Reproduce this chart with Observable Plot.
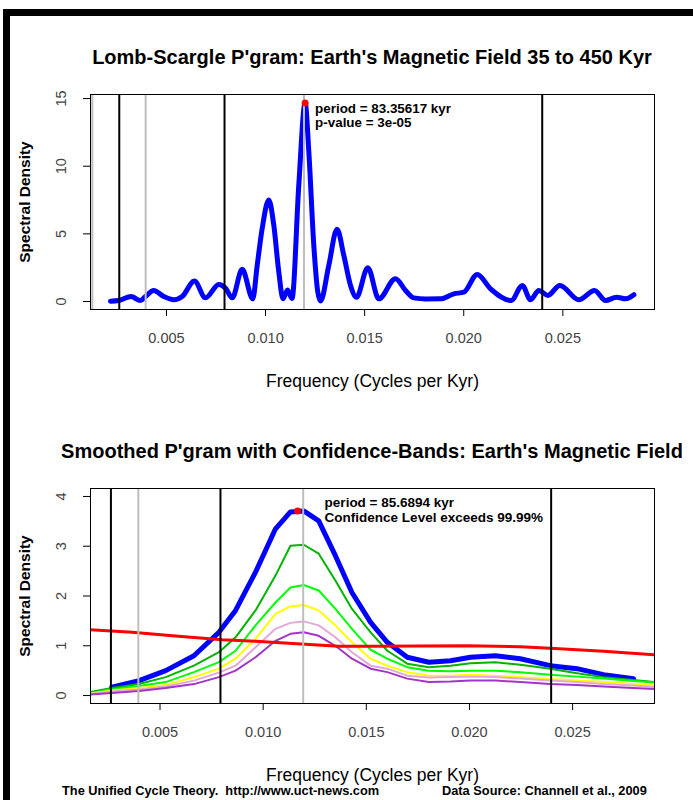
<!DOCTYPE html>
<html>
<head>
<meta charset="utf-8">
<script src="https://cdn.jsdelivr.net/npm/d3@7"></script>
<script src="https://cdn.jsdelivr.net/npm/@observablehq/plot@0.6"></script>
<style>
  body { margin: 0; background: #fff; }
  #page { position: relative; width: 693px; height: 800px; overflow: hidden; background: #fff;
          font-family: "Liberation Sans", Arial, sans-serif; color: #000; }
  .bar { position: absolute; background: #000; }
  .title { position: absolute; left: 0; width: 744px; text-align: center; font-weight: bold;
           font-size: 20px; white-space: nowrap; line-height: 24px; }
  .foot { position: absolute; top: 784px; font-weight: bold; font-size: 12.8px; white-space: nowrap; line-height: 14px; }
  .chart { position: absolute; left: 0; }
</style>
</head>
<body>
<div id="page">
  <div class="bar" style="left:3px;top:9px;width:690px;height:7px"></div>
  <div class="bar" style="left:3px;top:9px;width:7px;height:791px"></div>
  <div class="title" style="top:45px">Lomb-Scargle P'gram: Earth's Magnetic Field 35 to 450 Kyr</div>
  <div class="chart" id="top" style="top:80px"></div>
  <div class="title" style="top:439px">Smoothed P'gram with Confidence-Bands: Earth's Magnetic Field</div>
  <div class="chart" id="bottom" style="top:475px"></div>
  <div class="foot" style="left:62px">The Unified Cycle Theory.&nbsp; http://www.uct-news.com</div>
  <div class="foot" style="left:442px">Data Source: Channell et al., 2009</div>
</div>
<script>
// ---- Lomb-Scargle periodogram (frequency in cycles per kyr) ----
const lsFreq = [0.002175, 0.002594, 0.003220, 0.003689, 0.003941, 0.004360, 0.004865, 0.005370,
  0.005794, 0.006414, 0.006970, 0.007641, 0.007979, 0.008317, 0.008822, 0.009356, 0.009579,
  0.009831, 0.010164, 0.010416, 0.010669, 0.010881, 0.011108, 0.011335, 0.011678, 0.011997,
  0.012183, 0.012435, 0.012637, 0.012773, 0.013192, 0.013606, 0.013949, 0.014287, 0.014590,
  0.015160, 0.015715, 0.016558, 0.017063, 0.017482, 0.018072, 0.018829, 0.019500, 0.020005,
  0.020681, 0.021353, 0.022397, 0.022952, 0.023371, 0.023790, 0.024244, 0.024850, 0.025809,
  0.026601, 0.027156, 0.027711, 0.028166, 0.028585];
const lsPower = [0.02, 0.07, 0.37, 0.07, 0.37, 0.82, 0.37, 0.13,
  0.37, 1.51, 0.27, 1.26, 0.99, 0.27, 2.38, 0.20, 2.67,
  5.40, 7.50, 5.64, 2.18, 0.20, 0.85, 0.22, 8.61, 14.68,
  11.08, 4.16, 0.69, 0.04, 2.67, 5.35, 3.41, 1.19, 0.32,
  2.50, 0.20, 1.69, 0.82, 0.27, 0.19, 0.20, 0.57, 0.69,
  2.00, 0.94, 0.07, 1.19, 0.13, 0.82, 0.45, 1.19, 0.13,
  0.82, 0.07, 0.32, 0.20, 0.50];
const lsPeriod = 83.35617;   // kyr
const lsPeak = 14.68;
const lsPValue = "3e-05";

// ---- Smoothed periodogram and confidence bands ----
const smoothFreq = [0.002662, 0.003983, 0.005275, 0.006644, 0.007854, 0.008662, 0.009630, 0.010598,
  0.011323, 0.011967, 0.012693, 0.013501, 0.014304, 0.015209, 0.016017, 0.016985, 0.018031,
  0.019081, 0.020048, 0.021258, 0.022468, 0.023920, 0.025212, 0.026499, 0.027951];
const smoothPower = [0.17, 0.30, 0.50, 0.80, 1.27, 1.71, 2.48, 3.35,
  3.69, 3.71, 3.51, 2.81, 2.07, 1.47, 1.07, 0.77, 0.67,
  0.70, 0.77, 0.80, 0.74, 0.60, 0.54, 0.42, 0.34];

const bandFreq = [0.001626, 0.002662, 0.003983, 0.005275, 0.006644, 0.007854, 0.008662, 0.009630,
  0.010598, 0.011323, 0.011967, 0.012693, 0.013501, 0.014304, 0.015209, 0.016017, 0.016985,
  0.018031, 0.019081, 0.020048, 0.021258, 0.022468, 0.023920, 0.025212, 0.026499, 0.027951, 0.028967];
const band1 = [0.07, 0.15, 0.23, 0.37, 0.60, 0.87, 1.17, 1.71, 2.41, 3.01, 3.03, 2.85, 2.31, 1.74,
  1.27, 0.90, 0.64, 0.57, 0.60, 0.65, 0.67, 0.62, 0.54, 0.45, 0.37, 0.31, 0.27];
const band2 = [0.05, 0.12, 0.19, 0.27, 0.47, 0.67, 0.90, 1.41, 1.87, 2.17, 2.22, 2.11, 1.74, 1.34,
  0.92, 0.74, 0.57, 0.50, 0.49, 0.50, 0.50, 0.47, 0.42, 0.38, 0.34, 0.29, 0.26];
const band3 = [0.04, 0.10, 0.15, 0.21, 0.37, 0.54, 0.74, 1.14, 1.64, 1.79, 1.82, 1.71, 1.41, 1.07,
  0.74, 0.60, 0.47, 0.40, 0.40, 0.42, 0.40, 0.37, 0.33, 0.30, 0.27, 0.23, 0.20];
const band4 = [0.03, 0.08, 0.12, 0.18, 0.30, 0.46, 0.60, 0.97, 1.34, 1.46, 1.49, 1.41, 1.17, 0.87,
  0.60, 0.54, 0.40, 0.36, 0.37, 0.38, 0.37, 0.34, 0.30, 0.27, 0.23, 0.20, 0.17];
const band5 = [0.02, 0.05, 0.09, 0.15, 0.23, 0.37, 0.50, 0.77, 1.10, 1.24, 1.27, 1.20, 1.00, 0.74,
  0.54, 0.47, 0.34, 0.27, 0.28, 0.30, 0.30, 0.27, 0.23, 0.21, 0.18, 0.15, 0.13];
const bandColors = ["#00b400", "#00ff00", "#ffff00", "#e3a8d8", "#a235c8"];

// red-noise background
const redFreq = [0.001626, 0.003658, 0.005594, 0.008014, 0.009630, 0.011241, 0.013661,
  0.015209, 0.019889, 0.022468, 0.023920, 0.026499, 0.028967];
const redPower = [1.32, 1.27, 1.20, 1.12, 1.09, 1.05, 0.99, 0.99, 1.00, 0.98, 0.95, 0.89, 0.82];

const smPeriod = 85.6894;   // kyr
const smPeak = 3.71;
const smConfidence = "99.99%";

// reference frequencies (cycles per kyr)
const blackLines = [0.00262, 0.00793, 0.02396];
const grayLines = [0.00126, 0.00395, 0.01194];

// axis ticks
const xTicks = [0.005, 0.010, 0.015, 0.020, 0.025];
const yTicksTop = [0, 5, 10, 15];
const yTicksBottom = [0, 1, 2, 3, 4];

const font = "Liberation Sans, Arial, sans-serif";
const pts = (xs, ys) => xs.map((x, i) => ({f: x, v: ys[i]}));

function axes(yTicks) {
  return [
    Plot.axisX(xTicks, {tickSize: 7, tickPadding: 16, fontSize: 14.5, fill: "#444",
      tickFormat: d3.format(".3f"), label: null}),
    Plot.axisY(yTicks, {tickSize: 7, tickFormat: () => "", label: null}),
    Plot.text(yTicks, {y: d => d, frameAnchor: "left", dx: -29, rotate: -90, text: d => String(d),
      textAnchor: "middle", lineAnchor: "middle", fontSize: 14.5, fill: "#444"}),
    Plot.text(["Frequency (Cycles per Kyr)"], {frameAnchor: "bottom", dy: 72, lineAnchor: "middle",
      fontSize: 17.5}),
    Plot.text(["Spectral Density"], {frameAnchor: "left", dx: -65, rotate: -90, textAnchor: "middle",
      lineAnchor: "middle", fontSize: 15.5, fontWeight: "bold"})
  ];
}

// Top panel: Lomb-Scargle periodogram
const lsPeakFreq = 1 / lsPeriod;
const topChart = Plot.plot({
  width: 693, height: 330,
  marginLeft: 90, marginRight: 39, marginTop: 14, marginBottom: 101,
  style: {fontFamily: font, background: "transparent", overflow: "visible"},
  x: {domain: [0.001168, 0.029625]},
  y: {domain: [-0.59, 15.3]},
  marks: [
    Plot.line(pts(lsFreq, lsPower), {x: "f", y: "v", stroke: "#0000ff", strokeWidth: 5, curve: "monotone-x"}),
    Plot.ruleX(grayLines, {stroke: "#bebebe", strokeWidth: 2}),
    Plot.ruleX(blackLines, {stroke: "#000", strokeWidth: 2}),
    Plot.frame({stroke: "#000"}),
    ...axes(yTicksTop),
    Plot.dot([{f: lsPeakFreq, v: lsPeak}], {x: "f", y: "v", r: 3.5, fill: "#ff0000"}),
    Plot.text([{f: lsPeakFreq, v: lsPeak}], {x: "f", y: "v", dx: 10, dy: 6, textAnchor: "start",
      text: () => `period = ${lsPeriod} kyr`, fontSize: 13.4, fontWeight: "bold"}),
    Plot.text([{f: lsPeakFreq, v: lsPeak}], {x: "f", y: "v", dx: 10, dy: 20, textAnchor: "start",
      text: () => `p-value = ${lsPValue}`, fontSize: 13.4, fontWeight: "bold"})
  ]
});
document.getElementById("top").append(topChart);

// Bottom panel: smoothed periodogram with confidence bands
const smPeakFreq = 1 / smPeriod;
const bands = [band1, band2, band3, band4, band5];
const bottomChart = Plot.plot({
  width: 693, height: 315,
  marginLeft: 90, marginRight: 39, marginTop: 13, marginBottom: 87,
  style: {fontFamily: font, background: "transparent", overflow: "visible"},
  x: {domain: [0.00163, 0.02897]},
  y: {domain: [-0.16, 4.16]},
  marks: [
    Plot.line(pts(smoothFreq, smoothPower), {x: "f", y: "v", stroke: "#0000ff", strokeWidth: 5, clip: true}),
    ...bands.map((b, i) => Plot.line(pts(bandFreq, b), {x: "f", y: "v", stroke: bandColors[i],
      strokeWidth: 2, clip: true})),
    Plot.line(pts(redFreq, redPower), {x: "f", y: "v", stroke: "#ff0000", strokeWidth: 3, clip: true}),
    Plot.ruleX(grayLines, {stroke: "#bebebe", strokeWidth: 2, clip: true}),
    Plot.ruleX(blackLines, {stroke: "#000", strokeWidth: 2, clip: true}),
    Plot.frame({stroke: "#000"}),
    ...axes(yTicksBottom),
    Plot.dot([{f: smPeakFreq, v: smPeak}], {x: "f", y: "v", r: 3.5, fill: "#ff0000"}),
    Plot.text([{f: smPeakFreq, v: smPeak}], {x: "f", y: "v", dx: 27, dy: -8, textAnchor: "start",
      text: () => `period = ${smPeriod} kyr`, fontSize: 13.5, fontWeight: "bold"}),
    Plot.text([{f: smPeakFreq, v: smPeak}], {x: "f", y: "v", dx: 27, dy: 7, textAnchor: "start",
      text: () => `Confidence Level exceeds ${smConfidence}`, fontSize: 13.5, fontWeight: "bold"})
  ]
});
document.getElementById("bottom").append(bottomChart);
</script>
</body>
</html>
